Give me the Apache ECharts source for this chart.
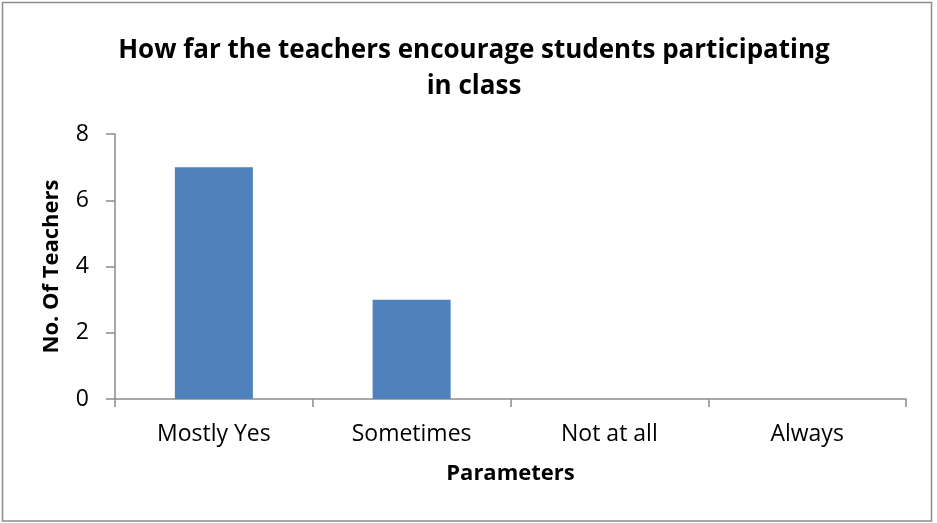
<!DOCTYPE html>
<html><head><meta charset="utf-8">
<script src="https://cdn.jsdelivr.net/npm/echarts@6/dist/echarts.min.js"></script>
<style>html,body{margin:0;padding:0;background:#fff}#c{width:937px;height:523px}</style>
</head><body><div id="c"></div>
<script>
const categories = ['Mostly Yes', 'Sometimes', 'Not at all', 'Always'];
const teachers = [7, 3, 0, 0];
const yTicks = [0, 2, 4, 6, 8];
const titleText = 'How far the teachers encourage students participating\nin class';
const FONT = '"Open Sans", Lato, sans-serif';
const chart = echarts.init(document.getElementById('c'), null, {renderer:'canvas'});
chart.setOption({
  backgroundColor: '#fff',
  animation: false,
  graphic: [{type:'rect', shape:{x:2.5,y:2.5,width:929,height:518.5}, style:{fill:'none', stroke:'#8c8c8c', lineWidth:1.5}, silent:true}],
  title: {text: titleText, left: 469, top: 28, textAlign: 'center',
    textStyle:{fontFamily:FONT, fontWeight:'bold', fontSize:26, color:'#000', lineHeight:36}},
  grid: {left:115, right:31, top:134, bottom:124, containLabel:false},
  xAxis: {type:'category', data:categories, boundaryGap:true,
    axisLine:{lineStyle:{color:'#8c8c8c', width:1.5}},
    axisTick:{show:true, alignWithLabel:false, length:8, lineStyle:{color:'#8c8c8c', width:1.5}},
    axisLabel:{fontFamily:FONT, fontSize:23, color:'#000', margin:24},
    name:'Parameters', nameLocation:'middle', nameGap:64,
    nameTextStyle:{fontFamily:FONT, fontWeight:'bold', fontSize:22, color:'#000'}},
  yAxis: {type:'value', min:yTicks[0], max:yTicks[yTicks.length-1], interval:2,
    splitLine:{show:false},
    axisLine:{show:true, lineStyle:{color:'#8c8c8c', width:1.5}},
    axisTick:{show:true, length:9, lineStyle:{color:'#8c8c8c', width:1.5}},
    axisLabel:{fontFamily:FONT, fontSize:23, color:'#000', margin:26},
    name:'No. Of Teachers', nameLocation:'middle', nameGap:52, nameRotate:90,
    nameTextStyle:{fontFamily:FONT, fontWeight:'bold', fontSize:22, color:'#000'}},
  series: [{type:'bar', data:teachers, barWidth:78, itemStyle:{color:'#4F81BD'}}]
});
</script></body></html>
